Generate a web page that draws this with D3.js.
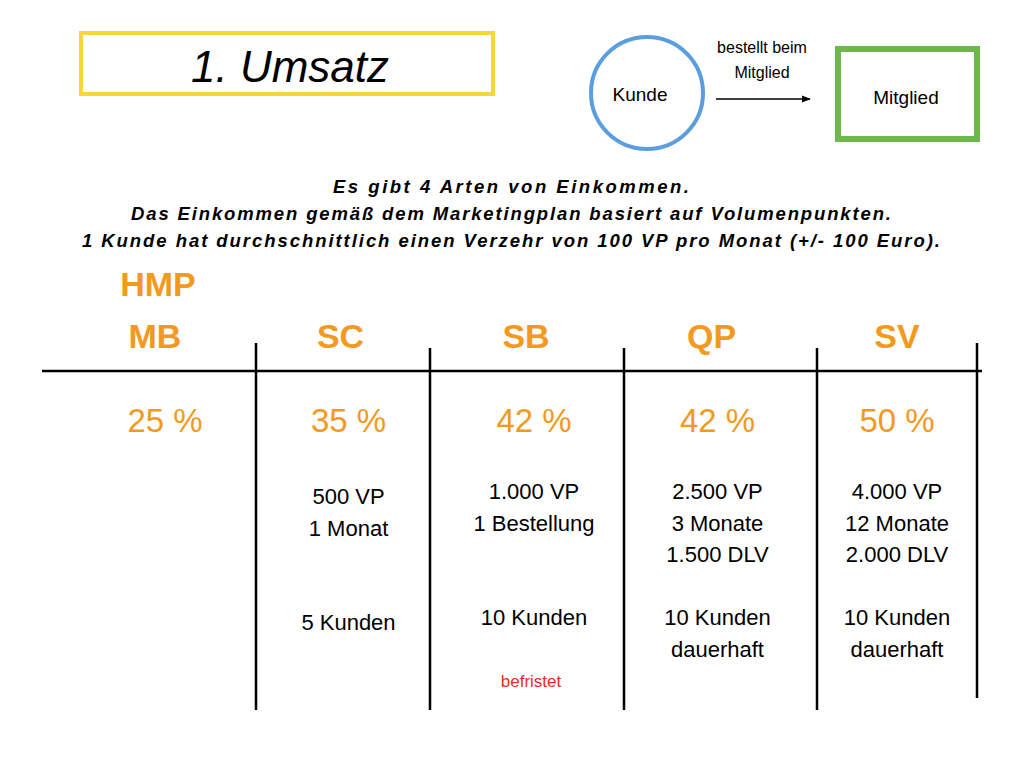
<!DOCTYPE html>
<html><head><meta charset="utf-8">
<script src="https://cdn.jsdelivr.net/npm/d3@7"></script>
<style>
body{margin:0;background:#fff;}
text{font-family:"Liberation Sans",Arial,sans-serif;}
</style></head>
<body>
<script>
(function(){

//slide content
var plans = ["MB", "SC", "SB", "QP", "SV"];
var percents = ["25 %", "35 %", "42 %", "42 %", "50 %"];
var details = [
  [],
  ["500 VP", "1 Monat", "", "", "5 Kunden"],
  ["1.000 VP", "1 Bestellung", "", "", "10 Kunden"],
  ["2.500 VP", "3 Monate", "1.500 DLV", "", "10 Kunden", "dauerhaft"],
  ["4.000 VP", "12 Monate", "2.000 DLV", "", "10 Kunden", "dauerhaft"]
];
var introLines = [
  "Es gibt 4 Arten von Einkommen.",
  "Das Einkommen gemäß dem Marketingplan basiert auf Volumenpunkten.",
  "1 Kunde hat durchschnittlich einen Verzehr von 100 VP pro Monat (+/- 100 Euro)."
];
var dividers = [256, 430, 624, 817, 977];

var orange = "#f39a1e";

var svg = d3.select("body").append("svg")
    .attr("width", 1024).attr("height", 768);

//title box
svg.append("rect").attr("x", 81).attr("y", 33).attr("width", 412).attr("height", 61)
    .attr("fill", "none").attr("stroke", "#f7d63a").attr("stroke-width", 4);
svg.append("text").attr("x", 290).attr("y", 82).attr("text-anchor", "middle")
    .attr("font-size", 44).attr("font-style", "italic").text("1. Umsatz");

//kunde -> mitglied
svg.append("circle").attr("cx", 647).attr("cy", 93).attr("r", 56)
    .attr("fill", "none").attr("stroke", "#5b9ee0").attr("stroke-width", 4);
svg.append("text").attr("x", 640).attr("y", 101).attr("text-anchor", "middle")
    .attr("font-size", 19).text("Kunde");
svg.append("defs").append("marker").attr("id", "arr")
    .attr("viewBox", "0 0 10 10").attr("refX", 9).attr("refY", 5)
    .attr("markerWidth", 6).attr("markerHeight", 6).attr("orient", "auto")
  .append("path").attr("d", "M0,1L10,5L0,9z").attr("fill", "#000");
svg.append("line").attr("x1", 716).attr("x2", 810).attr("y1", 99).attr("y2", 99)
    .attr("stroke", "#000").attr("stroke-width", 1.5).attr("marker-end", "url(#arr)");
svg.selectAll(".arrLabel").data(["bestellt beim", "Mitglied"]).enter().append("text")
    .attr("x", 762).attr("y", function(d, i){ return 53 + i * 25; })
    .attr("text-anchor", "middle").attr("font-size", 16).text(function(d){ return d; });
svg.append("rect").attr("x", 838).attr("y", 49).attr("width", 139).attr("height", 90)
    .attr("fill", "none").attr("stroke", "#6cb84a").attr("stroke-width", 6);
svg.append("text").attr("x", 906).attr("y", 104).attr("text-anchor", "middle")
    .attr("font-size", 19).text("Mitglied");

//intro
svg.selectAll(".intro").data(introLines).enter().append("text")
    .attr("x", 511).attr("y", function(d, i){ return 193 + i * 27; })
    .attr("text-anchor", "middle").attr("font-size", 18.5)
    .attr("font-weight", "bold").attr("font-style", "italic")
    .attr("textLength", function(d, i){ return [356, 760, 858][i]; })
    .text(function(d){ return d; });

svg.append("text").attr("x", 158).attr("y", 296).attr("text-anchor", "middle")
    .attr("font-size", 34).attr("font-weight", "bold").attr("fill", orange).text("HMP");

//columns
var x = d3.scalePoint().domain(plans).range([155, 897]);
var y = d3.scaleLinear().domain([0, 1]).range([499, 530.5]);

svg.selectAll(".plan").data(plans).enter().append("text")
    .attr("x", function(d){ return x(d); }).attr("y", 348)
    .attr("text-anchor", "middle").attr("font-size", 34).attr("font-weight", "bold")
    .attr("fill", orange).text(function(d){ return d; });

svg.append("line").attr("x1", 42).attr("x2", 982).attr("y1", 371).attr("y2", 371)
    .attr("stroke", "#000").attr("stroke-width", 2.5);
svg.selectAll(".div").data(dividers).enter().append("line")
    .attr("x1", function(d){ return d; }).attr("x2", function(d){ return d; })
    .attr("y1", function(d, i){ return i % 4 == 0 ? 343 : 348; })
    .attr("y2", function(d, i){ return i == 4 ? 698 : 710; })
    .attr("stroke", "#000").attr("stroke-width", 2.5);

var colOffset = [10, 8, 8, 6, 0];
svg.selectAll(".pct").data(percents).enter().append("text")
    .attr("x", function(d, i){ return x(plans[i]) + colOffset[i]; }).attr("y", 432)
    .attr("text-anchor", "middle").attr("font-size", 33).attr("fill", orange)
    .text(function(d){ return d; });

details.forEach(function(lines, c){
  svg.selectAll(".det" + c).data(lines).enter().append("text")
      .attr("x", x(plans[c]) + colOffset[c]).attr("y", function(d, i){ return y(i) + (c == 1 ? 5 : 0); })
      .attr("text-anchor", "middle").attr("font-size", 22)
      .text(function(d){ return d; });
});

svg.append("text").attr("x", 531).attr("y", 687).attr("text-anchor", "middle")
    .attr("font-size", 17).attr("fill", "#e0301e").text("befristet");

})();
</script>
</body></html>
